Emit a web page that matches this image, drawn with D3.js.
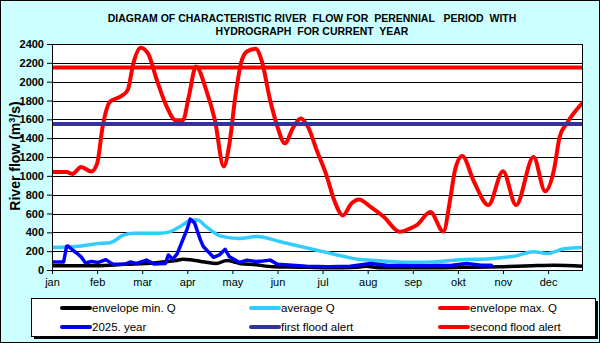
<!DOCTYPE html>
<html>
<head>
<meta charset="utf-8">
<script src="https://cdn.jsdelivr.net/npm/d3@7/dist/d3.min.js"></script>
<style>
  html, body { margin: 0; padding: 0; background: #fff; }
  svg { display: block; }
  text { font-family: "Liberation Sans", Arial, sans-serif; }
</style>
</head>
<body>
<svg id="chart" width="600" height="343"></svg>
<script>
// ---------- DATA ----------
const monthLabels = ["jan","feb","mar","apr","may","jun","jul","aug","sep","okt","nov","dec"];
const yTicks = [0,200,400,600,800,1000,1200,1400,1600,1800,2000,2200,2400];

const maxDays = [0,10,14,20,27,31,35,40,47,52,56,61,66,72,79,85,90,94,99,106,112,118,122,126,130,134,140,144,150,155,160,166,171,176,182,189,194,200,206,211,219,228,239,246,251,260,269,274,277,282,290,300,310,319,331,339,345,349,354,365];
const maxQ    = [1040,1040,1020,1095,1045,1130,1540,1790,1840,1910,2200,2360,2300,2020,1730,1590,1590,1840,2160,1910,1590,1100,1345,1840,2200,2320,2350,2230,1800,1520,1345,1520,1610,1520,1270,990,740,580,710,750,670,565,405,440,480,615,410,780,1060,1210,940,690,1050,690,1200,835,1060,1415,1560,1780];

const minDays = [0,31,50,70,85,90,95,105,113,120,129,140,152,170,186,200,210,216,225,246,270,290,310,330,345,365];
const minQ    = [45,45,60,75,100,115,110,85,70,100,70,55,35,30,25,25,30,40,25,25,25,30,35,45,50,40];

const avgDays = [0,10,20,31,40,49,56,74,81,89,96,100,106,116,129,141,157,171,182,196,210,223,246,262,280,301,319,331,340,352,365];
const avgQ    = [240,245,255,280,290,370,390,390,405,470,530,530,460,360,335,355,300,250,210,160,115,100,82,85,110,120,150,195,175,225,240];

const yearDays = [0,8,10,11,14,17,20,23,27,32,37,42,50,54,58,65,70,78,80,83,86,89,93,95,98,102,104,111,115,119,122,129,134,140,145,150,155,165,175,190,205,219,230,246,260,275,285,295,302];
const yearQ    = [85,85,250,255,215,180,140,75,90,80,110,60,60,85,70,105,65,70,160,115,170,285,440,540,500,320,250,135,160,220,140,80,105,90,95,105,60,50,40,35,40,70,50,45,45,50,70,50,50];

const firstFloodAlert = 1550;
const secondFloodAlert = 2150;

const legendItems = [
  {name: "envelope min. Q", color: "#000000"},
  {name: "average Q", color: "#33ccff"},
  {name: "envelope max. Q", color: "#ff0000"},
  {name: "2025. year", color: "#0000ff"},
  {name: "first flood alert", color: "#333399"},
  {name: "second flood alert", color: "#ff0000"}
];

// ---------- LAYOUT ----------
const svg = d3.select("#chart");
const W = 600, H = 343;
const plot = {left: 52, right: 583, top: 44, bottom: 270};

svg.append("rect").attr("x",0.5).attr("y",0.5).attr("width",W-1).attr("height",H-1)
  .attr("fill","#ccffff").attr("stroke","#000").attr("stroke-width",1);

const x = d3.scaleLinear().domain([0,365]).range([plot.left, plot.right]);
const y = d3.scaleLinear().domain([0,2400]).range([plot.bottom, plot.top]);

// plot area
svg.append("rect").attr("x",plot.left).attr("y",plot.top)
  .attr("width",plot.right-plot.left).attr("height",plot.bottom-plot.top)
  .attr("fill","#fff");

// gridlines
svg.append("g").selectAll("line").data(yTicks).join("line")
  .attr("x1",plot.left).attr("x2",plot.right)
  .attr("y1",d=>Math.round(y(d))+0.5).attr("y2",d=>Math.round(y(d))+0.5)
  .attr("stroke","#000").attr("stroke-width",1);

// y axis
const yAxis = d3.axisLeft(y).tickValues(yTicks).tickSize(5).tickPadding(3).tickFormat(d3.format("d"));
const gy = svg.append("g").attr("transform",`translate(${plot.left},0)`).call(yAxis);
gy.select(".domain").remove();
gy.selectAll(".tick line").attr("stroke","#000");
gy.selectAll(".tick text").attr("font-size","11px").attr("font-weight","bold").attr("fill","#000")
  .attr("font-family","'Liberation Sans', Arial, sans-serif");

// x axis
const xTickVals = monthLabels.map((m,i)=>i*31);
const xAxis = d3.axisBottom(x).tickValues(xTickVals).tickSize(4).tickPadding(4)
  .tickFormat((d,i)=>monthLabels[i]);
const gx = svg.append("g").attr("transform",`translate(0,${plot.bottom})`).call(xAxis);
gx.select(".domain").remove();
gx.selectAll(".tick line").attr("stroke","#000");
gx.selectAll(".tick text").attr("font-size","11px").attr("fill","#000")
  .attr("font-family","'Liberation Sans', Arial, sans-serif");

// clip
svg.append("clipPath").attr("id","clip").append("rect")
  .attr("x",plot.left).attr("y",plot.top-10).attr("width",plot.right-plot.left).attr("height",plot.bottom-plot.top+10);

const lines = svg.append("g").attr("clip-path","url(#clip)");
function series(days, vals, color, width, curve) {
  const data = days.map((d,i)=>[d, vals[i]]);
  lines.append("path").datum(data)
    .attr("fill","none").attr("stroke",color).attr("stroke-width",width)
    .attr("stroke-linejoin","round").attr("stroke-linecap","round")
    .attr("d", d3.line().x(d=>x(d[0])).y(d=>y(d[1])).curve(curve));
}
series(minDays, minQ, "#000000", 3.5, d3.curveMonotoneX);
series(avgDays, avgQ, "#33ccff", 3.5, d3.curveMonotoneX);
series(maxDays, maxQ, "#ff0000", 4, d3.curveMonotoneX);
series(yearDays, yearQ, "#0000ff", 3.5, d3.curveLinear);

// flood alerts
lines.append("line").attr("x1",plot.left).attr("x2",plot.right)
  .attr("y1",y(firstFloodAlert)).attr("y2",y(firstFloodAlert))
  .attr("stroke","#333399").attr("stroke-width",4);
lines.append("line").attr("x1",plot.left).attr("x2",plot.right)
  .attr("y1",y(secondFloodAlert)).attr("y2",y(secondFloodAlert))
  .attr("stroke","#ff0000").attr("stroke-width",4);

// plot border
svg.append("rect").attr("x",plot.left+0.5).attr("y",plot.top+0.5)
  .attr("width",plot.right-plot.left-1).attr("height",plot.bottom-plot.top)
  .attr("fill","none").attr("stroke","#000").attr("stroke-width",1);

// title
const title = svg.append("text").attr("text-anchor","middle").attr("font-size","10.5px")
  .attr("font-weight","bold").attr("fill","#000").style("white-space","pre");
title.append("tspan").attr("x",312).attr("y",22).text("DIAGRAM OF CHARACTERISTIC RIVER  FLOW FOR  PERENNIAL   PERIOD  WITH");
title.append("tspan").attr("x",312).attr("y",35).text("HYDROGRAPH  FOR CURRENT  YEAR");

// y title
svg.append("text").attr("transform","translate(20,156) rotate(-90)")
  .attr("text-anchor","middle").attr("font-size","14px").attr("font-weight","bold").attr("fill","#000")
  .html('River flow (m<tspan dy="-5" font-size="9px">3</tspan><tspan dy="5">/s)</tspan>');

// legend
const lg = {x: 31, y: 298, w: 564, h: 38};
svg.append("rect").attr("x",lg.x+3).attr("y",lg.y+3).attr("width",lg.w).attr("height",lg.h).attr("fill","#000");
svg.append("rect").attr("x",lg.x+0.5).attr("y",lg.y+0.5).attr("width",lg.w).attr("height",lg.h)
  .attr("fill","#fff").attr("stroke","#000").attr("stroke-width",1);
const colX = [62, 251, 440];
const rowY = [308, 327];
legendItems.forEach((it,i)=>{
  const cx = colX[i%3], cy = rowY[Math.floor(i/3)];
  svg.append("line").attr("x1",cx).attr("x2",cx+28).attr("y1",cy).attr("y2",cy)
    .attr("stroke",it.color).attr("stroke-width",4).attr("stroke-linecap","round");
  svg.append("text").attr("x",cx+30).attr("y",cy+4).attr("font-size","11.5px").attr("fill","#000").text(it.name);
});
</script>
</body>
</html>
